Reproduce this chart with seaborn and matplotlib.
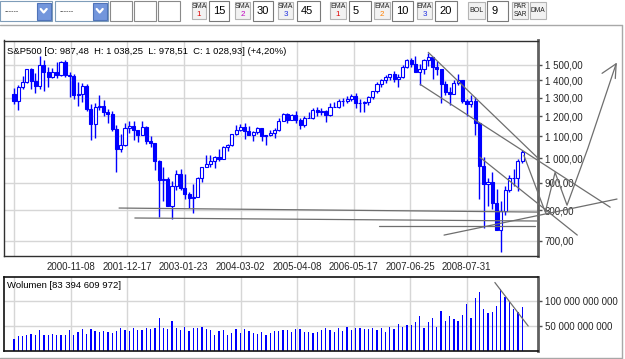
import numpy as np
import pandas as pd
import matplotlib
matplotlib.use("Agg")
import matplotlib.pyplot as plt
from matplotlib.patches import Rectangle
from matplotlib.ticker import FixedLocator, NullLocator
import seaborn as sns

# --- monthly S&P500 candles, 1999-09 .. 2009-08 ---
closes = [
    1282.71, 1362.93, 1388.91, 1469.25,
    1394.46, 1366.42, 1498.58, 1452.43, 1420.60, 1454.60, 1430.83, 1517.68, 1436.51, 1429.40, 1314.95, 1320.28,
    1366.01, 1239.94, 1160.33, 1249.46, 1255.82, 1224.42, 1211.23, 1133.58, 1040.94, 1059.78, 1139.45, 1148.08,
    1130.20, 1106.73, 1147.39, 1076.92, 1067.14, 989.82, 911.62, 916.07, 815.28, 885.76, 936.31, 879.82,
    855.70, 841.15, 848.18, 916.92, 963.59, 974.50, 990.31, 1008.01, 995.97, 1050.71, 1058.20, 1111.92,
    1131.13, 1144.94, 1126.21, 1107.30, 1120.68, 1140.84, 1101.72, 1104.24, 1114.58, 1130.20, 1173.82, 1211.92,
    1181.27, 1203.60, 1180.59, 1156.85, 1191.50, 1191.33, 1234.18, 1220.33, 1228.81, 1207.01, 1249.48, 1248.29,
    1280.08, 1280.66, 1294.83, 1310.61, 1270.09, 1270.20, 1276.66, 1303.82, 1335.85, 1377.94, 1400.63, 1418.30,
    1438.24, 1406.82, 1420.86, 1482.37, 1530.62, 1503.35, 1455.27, 1473.99, 1526.75, 1549.38, 1481.14, 1468.36,
    1378.55, 1330.63, 1322.70, 1385.59, 1400.38, 1280.00, 1267.38, 1282.83, 1166.36, 968.75, 896.24, 903.25,
    825.88, 735.09, 797.87, 872.81, 919.14, 919.32, 987.48, 1028.93,
]
opens = [1320.41] + closes[:-1]
highs = [
    1357.7, 1373.2, 1425.0, 1473.4,
    1478.0, 1444.6, 1552.9, 1527.2, 1481.5, 1474.6, 1517.3, 1525.2, 1530.1, 1454.8, 1438.5, 1389.1,
    1383.4, 1376.4, 1267.4, 1269.3, 1315.9, 1286.6, 1239.8, 1226.3, 1155.4, 1110.6, 1163.4, 1173.6,
    1176.6, 1130.2, 1173.9, 1147.8, 1099.3, 1070.7, 994.5, 965.0, 924.0, 907.4, 951.6, 954.3,
    935.1, 864.6, 895.9, 924.2, 965.4, 1015.3, 1015.4, 1011.0, 1040.3, 1053.8, 1063.7, 1112.6,
    1155.4, 1159.0, 1163.2, 1150.6, 1127.7, 1146.3, 1140.8, 1108.6, 1131.5, 1142.1, 1188.5, 1217.3,
    1217.8, 1212.4, 1229.1, 1191.9, 1199.6, 1219.6, 1245.2, 1245.9, 1243.1, 1233.3, 1270.6, 1275.8,
    1294.9, 1297.6, 1310.9, 1318.2, 1326.7, 1290.7, 1280.4, 1306.7, 1340.3, 1389.5, 1407.9, 1431.8,
    1441.6, 1461.6, 1438.9, 1498.0, 1535.6, 1540.6, 1555.9, 1503.9, 1538.7, 1576.1, 1552.8, 1523.6,
    1471.8, 1396.0, 1359.7, 1404.6, 1440.2, 1404.1, 1292.2, 1313.2, 1303.0, 1167.0, 1007.5, 918.9,
    943.9, 875.0, 833.0, 888.7, 930.2, 956.2, 996.7, 1038.25,
]
lows = [
    1263.9, 1233.7, 1347.7, 1387.4,
    1350.1, 1325.1, 1346.6, 1339.4, 1361.1, 1415.0, 1413.9, 1428.8, 1419.4, 1305.8, 1294.9, 1254.1,
    1274.6, 1228.3, 1081.2, 1092.0, 1232.0, 1203.0, 1165.5, 1124.9, 944.8, 1026.8, 1054.3, 1114.5,
    1081.7, 1074.4, 1106.7, 1063.5, 1049.0, 952.9, 775.7, 833.4, 815.3, 768.6, 872.6, 871.5,
    840.3, 806.3, 788.9, 847.9, 902.8, 963.4, 962.1, 960.8, 990.4, 996.0, 1031.2, 1053.4,
    1105.1, 1124.4, 1087.2, 1105.6, 1076.3, 1113.3, 1079.0, 1060.7, 1099.2, 1090.2, 1127.6, 1173.8,
    1163.8, 1181.0, 1163.7, 1136.2, 1146.2, 1188.3, 1183.6, 1201.1, 1205.4, 1168.2, 1201.1, 1246.6,
    1245.7, 1253.6, 1268.4, 1280.7, 1245.3, 1219.3, 1224.5, 1261.3, 1290.9, 1327.1, 1361.0, 1385.9,
    1404.0, 1389.4, 1364.0, 1416.4, 1476.7, 1484.2, 1454.3, 1370.6, 1439.3, 1489.6, 1406.1, 1435.7,
    1270.1, 1316.8, 1257.0, 1323.0, 1373.1, 1272.0, 1200.4, 1247.5, 1106.4, 839.8, 741.0, 815.7,
    804.5, 734.5, 666.8, 783.3, 866.1, 888.9, 869.3, 978.51,
]
# volume in billions
volume_bn = [
    25, 31, 30, 32, 35, 33, 42, 33, 32, 35,
    32, 33, 33, 42, 33, 38, 44, 35, 44, 40,
    38, 40, 38, 37, 40, 47, 42, 41, 47, 42,
    42, 46, 44, 47, 66, 47, 44, 60, 47, 42,
    49, 40, 47, 47, 49, 45, 42, 33, 40, 42,
    33, 37, 44, 37, 44, 40, 37, 35, 38, 33,
    37, 40, 40, 42, 42, 38, 44,
    44, 38, 38, 37, 38, 42, 46, 42, 38, 47,
    40, 49, 42, 47, 47, 44, 45, 47, 42, 46,
    39, 48, 44, 54, 49, 52, 52, 59, 70, 47,
    59, 67, 49, 80, 61, 70, 64, 60, 73, 94,
    66, 106, 118, 85, 77, 78, 91, 125, 108, 98,
    84, 78, 89,
]

grid_dates = ["1999-10-03", "2000-11-08", "2001-12-17", "2003-01-23", "2004-03-02",
              "2005-04-08", "2006-05-17", "2007-06-25", "2008-07-31"]
grid_labels = ["", "2000-11-08", "2001-12-17", "2003-01-23", "2004-03-02",
               "2005-04-08", "2006-05-17", "2007-06-25", "2008-07-31"]
price_ticks = [700, 800, 900, 1000, 1100, 1200, 1300, 1400, 1500]
volume_ticks = [50e9, 100e9]

# hand-drawn analysis lines (month index, price)
trend_lines = [
    ([24.6, 122.7], [807, 793]),
    ([28.3, 122.7], [773, 763]),
    ([85.5, 122.0], [747, 747]),
    ([100.7, 141.2], [718, 839]),
    ([97.0, 122.7], [1581, 1001]),
    ([95.1, 139.6], [1377, 810]),
    ([109.1, 131.9], [1005, 718]),
    ([119.4, 124.4, 126.7, 129.5, 134.4, 141.0], [1013, 793, 941, 817, 1046, 1505]),
    ([137.7, 141.0, 140.8], [1444, 1505, 1412]),
]
volume_trend = ([112.6, 120.4], [137e9, 50e9])

df = pd.DataFrame({"open": opens, "high": highs, "low": lows, "close": closes,
                   "volume": np.array(volume_bn) * 1e9})
df["idx"] = np.arange(len(df))
month_ends = pd.period_range("1999-09", periods=len(df), freq="M").to_timestamp(how="end").normalize()
grid_pos = np.interp(pd.to_datetime(grid_dates).astype("int64"),
                     month_ends.astype("int64"), df["idx"])

sns.set_theme(style="white")
plt.rcParams["font.family"] = ["Liberation Sans", "DejaVu Sans"]

W, H = 625, 359
fig = plt.figure(figsize=(W / 100, H / 100), dpi=100, facecolor="white")
BLUE = "#0000ff"
GRID = "#d6d6d6"
LINE = "#6e6e6e"

def frac(x0, y0, x1, y1):
    return [x0 / W, 1 - y1 / H, (x1 - x0) / W, (y1 - y0) / H]

# --- price panel ---
ax = fig.add_axes(frac(4, 40.5, 538, 256))
ax.set_yscale("log")
up = df["close"] >= df["open"]
ax.vlines(df["idx"], df["low"], df["high"], color=BLUE, lw=1, zorder=3)
body_lo = np.minimum(df["open"], df["close"])
body_h = np.abs(df["close"] - df["open"]).clip(lower=1.5)
ax.bar(df["idx"], body_h, bottom=body_lo, width=0.72,
       color=np.where(up, "white", BLUE), edgecolor=BLUE, linewidth=0.8, zorder=4)

for xs, ys in trend_lines:
    ax.plot(xs, ys, color=LINE, lw=0.9, clip_on=False, zorder=5)

ax.set_xlim(-2.34, 122.7)
ax.set_ylim(656, 1664)
ax.yaxis.set_major_locator(FixedLocator(price_ticks))
ax.yaxis.set_minor_locator(NullLocator())
ax.set_yticklabels([f"{v:,.2f}".replace(",", " ").replace(".", ",") for v in price_ticks])
ax.set_xticks(grid_pos)
ax.set_xticklabels(grid_labels)
ax.grid(True, color=GRID, lw=1)
ax.set_axisbelow(True)
ax.tick_params(axis="y", left=False, labelleft=False, right=True, labelright=True,
               direction="out", length=3, width=1, color="#505050", labelsize=7, pad=2)
ax.tick_params(axis="x", bottom=False, length=0, labelsize=7, pad=4)
for s in ["left", "top", "bottom"]:
    ax.spines[s].set_color("#303030")
    ax.spines[s].set_linewidth(1)
ax.spines["right"].set_color("#606060")
ax.spines["right"].set_linewidth(2)
ax.text(0.006, 0.97, "S&P500 [O: 987,48  H: 1 038,25  L: 978,51  C: 1 028,93] (+4,20%)",
        transform=ax.transAxes, fontsize=6.8, va="top", ha="left", color="black")

# --- volume panel ---
axv = fig.add_axes(frac(4, 277, 538, 351))
sns.barplot(data=df, x="idx", y="volume", native_scale=True, color=BLUE, saturation=1,
            width=0.3, errorbar=None, linewidth=0, ax=axv)
axv.plot(*volume_trend, color=LINE, lw=0.9, zorder=5)
axv.set_xlim(-2.34, 122.7)
axv.set_ylim(0, 148e9)
axv.set_xlabel("")
axv.set_ylabel("")
axv.set_xticks(grid_pos)
axv.set_xticklabels([])
axv.yaxis.set_major_locator(FixedLocator(volume_ticks))
axv.set_yticklabels([f"{v:,.0f}".replace(",", " ") for v in volume_ticks])
axv.grid(True, color=GRID, lw=1)
axv.set_axisbelow(True)
axv.tick_params(axis="y", left=False, labelleft=False, right=True, labelright=True,
                direction="out", length=3, width=1, color="#505050", labelsize=7, pad=2)
axv.tick_params(axis="x", bottom=False, length=0)
for s in ["left", "top", "bottom"]:
    axv.spines[s].set_color("#101010")
    axv.spines[s].set_linewidth(1.2)
axv.spines["right"].set_color("#606060")
axv.spines["right"].set_linewidth(2)
axv.text(0.006, 0.95, "Wolumen [83 394 609 972]", transform=axv.transAxes,
         fontsize=6.8, va="top", ha="left", color="black")

# --- window frame and toolbar ---
bg = fig.add_axes([0, 0, 1, 1])
bg.set_xlim(0, W)
bg.set_ylim(H, 0)
bg.axis("off")

bg.plot([0, 622], [25, 25], color="#a8a8a8", lw=1)
bg.plot([622, 622], [25, 358], color="#a8a8a8", lw=1)
bg.plot([0, 622], [358, 358], color="#a8a8a8", lw=1)


def box(x0, y0, x1, y1, face="white", edge="#8a8a8a", lw=0.8):
    bg.add_patch(Rectangle((x0, y0), x1 - x0, y1 - y0, facecolor=face, edgecolor=edge, lw=lw))


for x0, x1 in [(0, 52), (55, 108)]:
    box(x0, 1, x1, 21, edge="#7f9db9")
    bg.text(x0 + 5, 12, "------", fontsize=5, va="center", color="#333333")
    box(x1 - 15, 2.5, x1 - 1.5, 19.5, face="#7396dc", edge="#4f73b8")
    cx = x1 - 8.3
    bg.plot([cx - 3, cx, cx + 3], [9, 12.5, 9], color="white", lw=1.6)

for x0, x1 in [(110, 132), (134, 156), (158, 180)]:
    box(x0, 1, x1, 21)

buttons = [("SMA", "1", "#e00000", 192, 206), ("SMA", "2", "#c000c0", 235, 250),
           ("SMA", "3", "#2030e0", 278, 293), ("EMA", "1", "#e00000", 330, 346),
           ("EMA", "2", "#ff8000", 374, 390), ("EMA", "3", "#2030e0", 417, 432)]
inputs = [("15", 209, 229), ("30", 253, 273), ("45", 297, 320),
          ("5", 349, 371), ("10", 392, 413), ("20", 435, 457), ("9", 487, 508)]
for name, num, col, x0, x1 in buttons:
    box(x0, 2, x1, 19, face="#f2f2f2", edge="#b4b4b4")
    bg.text((x0 + x1) / 2, 7, name, fontsize=5, ha="center", va="center", color="#222222")
    bg.text((x0 + x1) / 2, 15, num, fontsize=5.8, ha="center", va="center", color=col)
for val, x0, x1 in inputs:
    box(x0, 1, x1, 21, edge="#7a7a7a")
    bg.text(x0 + 4, 11.5, val, fontsize=8, va="center", color="black")

box(468, 2, 485, 19, face="#f2f2f2", edge="#b4b4b4")
bg.text(476.5, 11, "BOL", fontsize=5, ha="center", va="center", color="#222222")
box(512, 2, 528, 19, face="#f2f2f2", edge="#b4b4b4")
bg.text(520, 7, "PAR", fontsize=4.8, ha="center", va="center", color="#222222")
bg.text(520, 14.5, "SAR", fontsize=4.8, ha="center", va="center", color="#222222")
box(530, 2, 546, 19, face="#f2f2f2", edge="#b4b4b4")
bg.text(538, 11, "DMA", fontsize=4.8, ha="center", va="center", color="#222222")

fig.savefig("out.png", dpi=100, facecolor="white")
